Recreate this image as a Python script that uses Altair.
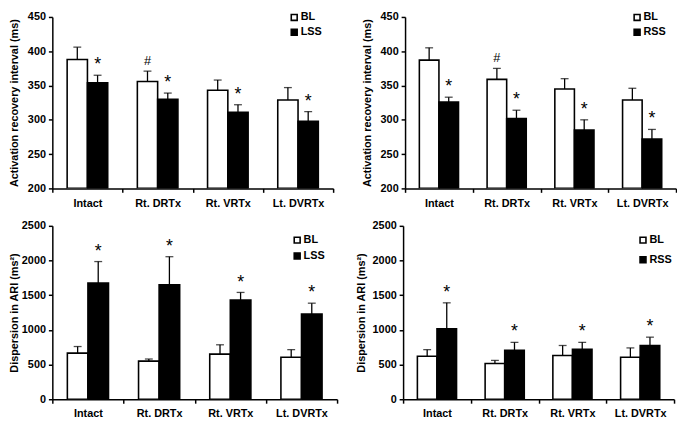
import altair as alt
import pandas as pd

# ---------------- data ----------------
categories = ["Intact", "Rt. DRTx", "Rt. VRTx", "Lt. DVRTx"]

# Panel A: ARI, BL vs LSS
ari_bl_a = [388, 356, 343, 329]
ari_bl_a_se = [18, 15, 15, 18]
ari_lss = [354, 330, 311, 298]
ari_lss_se = [11, 9, 11, 14]

# Panel B: ARI, BL vs RSS
ari_bl_b = [387, 359, 345, 329]
ari_bl_b_se = [18, 16, 15, 17]
ari_rss = [326, 302, 285, 272]
ari_rss_se = [7, 12, 15, 14]

# Panel C: dispersion, BL vs LSS
disp_bl_c = [665, 550, 650, 605]
disp_bl_c_se = [95, 30, 135, 110]
disp_lss = [1675, 1650, 1430, 1230]
disp_lss_se = [310, 405, 110, 155]

# Panel D: dispersion, BL vs RSS
disp_bl_d = [620, 515, 630, 605]
disp_bl_d_se = [95, 45, 145, 135]
disp_rss = [1015, 705, 720, 775]
disp_rss_se = [375, 115, 100, 120]

# significance markers
star_marks = ["*", "*", "*", "*"]
hash_top = ["", "#", "", ""]
hash_bottom = ["", "", "", ""]

FONT = "Liberation Sans"


def make_df(bl, bl_se, st, st_se, st_name, bl_mark):
    rows = []
    for i, c in enumerate(categories):
        rows.append(dict(cat=c, series="BL", value=bl[i], top=bl[i] + bl_se[i], mark=bl_mark[i]))
        rows.append(dict(cat=c, series=st_name, value=st[i], top=st[i] + st_se[i], mark=star_marks[i]))
    return pd.DataFrame(rows)


def panel(df, st_name, ytitle, ydomain, ytick, width, height, legx, legy, rowpad, titlepad):
    x = alt.X("cat:N", sort=categories, title=None,
              scale=alt.Scale(paddingInner=0, paddingOuter=0),
              axis=alt.Axis(tickBand="extent", labelAngle=0, labelFont=FONT, labelFontSize=11,
                            labelFontWeight="bold", labelColor="black", domainColor="black",
                            domainWidth=1.5, tickColor="black", tickWidth=1.5, tickSize=4,
                            labelPadding=5))
    xo = alt.XOffset("series:N", sort=["BL", st_name],
                     scale=alt.Scale(domain=["BL", st_name], paddingInner=0, paddingOuter=0.73))
    y_axis = alt.Axis(values=ytick, format="d", labelOverlap=False,
                      labelFont=FONT, labelFontSize=11, labelFontWeight="bold",
                      labelColor="black", titleFont=FONT, titleFontSize=11, titleFontWeight="bold",
                      titleColor="black", domainColor="black", domainWidth=1.5, tickColor="black",
                      tickWidth=1.5, tickSize=4, grid=False, labelPadding=3, titlePadding=titlepad)
    yscale = alt.Scale(domain=ydomain, nice=False, zero=False)

    def Y(field):
        return alt.Y(field, type="quantitative", title=ytitle, scale=yscale, axis=y_axis)

    base = alt.Chart(df)
    bars = base.mark_bar(stroke="black", strokeWidth=1.6, clip=True).encode(
        x=x, xOffset=xo, y=Y("value"),
        y2=alt.datum(ydomain[0]),
        fill=alt.Fill("series:N", sort=["BL", st_name],
                      scale=alt.Scale(domain=["BL", st_name], range=["white", "black"]),
                      legend=alt.Legend(title=None, orient="none", legendX=legx, legendY=legy,
                                        symbolType="square", symbolSize=36,
                                        symbolStrokeColor="black", symbolStrokeWidth=1.6,
                                        labelFont=FONT, labelFontSize=11, labelFontWeight="bold",
                                        labelColor="black", labelOffset=1, rowPadding=rowpad)),
    )
    err = base.mark_rule(color="black", strokeWidth=1.3).encode(
        x=x, xOffset=xo, y=Y("value"), y2="top:Q")
    caps = base.mark_tick(color="black", thickness=1.3, size=8).encode(
        x=x, xOffset=xo, y=Y("top"))
    stars = base.transform_filter(alt.datum.series == st_name).mark_text(
        font=FONT, fontSize=18, color="black", baseline="middle", dy=-10).encode(
        x=x, xOffset=xo, y=Y("top"), text="mark:N")
    hashes = base.transform_filter(alt.datum.series == "BL").mark_text(
        font=FONT, fontSize=13, color="black", baseline="bottom", dy=-3).encode(
        x=x, xOffset=xo, y=Y("top"), text="mark:N")
    return alt.layer(bars, err, caps, stars, hashes).properties(width=width, height=height)


df_a = make_df(ari_bl_a, ari_bl_a_se, ari_lss, ari_lss_se, "LSS", hash_top)
df_b = make_df(ari_bl_b, ari_bl_b_se, ari_rss, ari_rss_se, "RSS", hash_top)
df_c = make_df(disp_bl_c, disp_bl_c_se, disp_lss, disp_lss_se, "LSS", hash_bottom)
df_d = make_df(disp_bl_d, disp_bl_d_se, disp_rss, disp_rss_se, "RSS", hash_bottom)

ari_ticks = [200, 250, 300, 350, 400, 450]
disp_ticks = [0, 500, 1000, 1500, 2000, 2500]

pa = panel(df_a, "LSS", "Activation recovery interval (ms)", [200, 450], ari_ticks, 285, 174, 240, -5, 2, 8)
pb = panel(df_b, "RSS", "Activation recovery interval (ms)", [200, 450], ari_ticks, 275, 174, 230, -5, 2, 8)
pc = panel(df_c, "LSS", "Dispersion in ARI (ms²)", [0, 2500], disp_ticks, 289, 176, 243, 9, 3, 2)
pd_ = panel(df_d, "RSS", "Dispersion in ARI (ms²)", [0, 2500], disp_ticks, 275, 176, 238, 9, 7, 6)


def res(c):
    return c.resolve_scale(x="independent", y="independent", fill="independent",
                           xOffset="independent").resolve_legend(fill="independent")


top = res(alt.hconcat(pa, pb, spacing=27))
bottom = res(alt.hconcat(pc, pd_, spacing=17))
chart = res(alt.vconcat(top, bottom, spacing=12)).properties(
    padding={"left": 0, "top": 0, "right": 0, "bottom": 0},
    background="white",
).configure_view(stroke=None)

chart.save("out.html", embed_options={"renderer": "svg", "actions": False})
